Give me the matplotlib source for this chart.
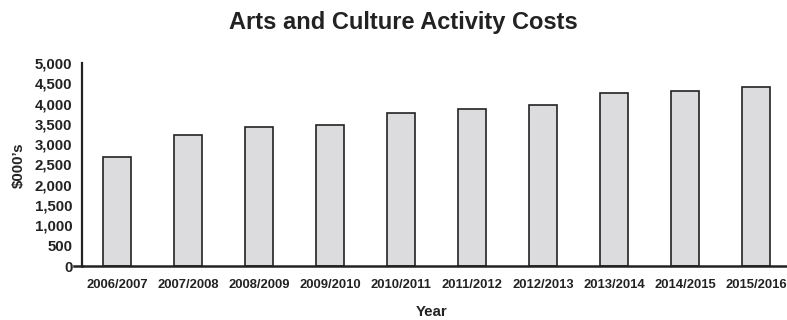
import matplotlib
matplotlib.use("Agg")
import matplotlib.pyplot as plt
import numpy as np

years = ["2006/2007", "2007/2008", "2008/2009", "2009/2010", "2010/2011",
         "2011/2012", "2012/2013", "2013/2014", "2014/2015", "2015/2016"]
costs = [2690, 3230, 3420, 3465, 3770, 3860, 3970, 4270, 4310, 4415]
yticks = [0, 500, 1000, 1500, 2000, 2500, 3000, 3500, 4000, 4500, 5000]

plt.rcParams['font.family'] = ['Liberation Sans', 'DejaVu Sans']

fig = plt.figure(figsize=(7.87, 3.2), dpi=100)
ax = fig.add_axes([82/787, 1-266/320, 704/787, (266-63)/320])

x = np.arange(len(years))
ax.bar(x, costs, width=0.4, color="#dcdcde", edgecolor="#222222", linewidth=1.2, zorder=2)

ax.set_xlim(-0.493, 9.42)
ax.set_ylim(0, 5000)
ax.set_yticks(yticks)
ax.set_yticklabels([f"{v:,}" for v in yticks], fontsize=10.8, fontweight="bold", color="#222222")
ax.set_xticks(x)
ax.set_xticklabels(years, fontsize=9.4, fontweight="bold", color="#222222")
ax.tick_params(axis="both", length=0)
ax.tick_params(axis="y", pad=7)
ax.tick_params(axis="x", pad=9)

for s in ["top", "right"]:
    ax.spines[s].set_visible(False)
ax.spines["left"].set_linewidth(1.6)
ax.spines["bottom"].set_linewidth(1.8)
ax.spines["left"].set_color("#222222")
ax.spines["bottom"].set_color("#222222")
ax.axhline(0, xmin=-0.012, xmax=0.0, color="#222222", linewidth=1.8, clip_on=False)

fig.text(403/787, 1-23/320, "Arts and Culture Activity Costs", ha="center", va="center",
         fontsize=17, fontweight="bold", color="#222222")
fig.text(432/787, 1-312/320, "Year", ha="center", va="center",
         fontsize=10.8, fontweight="bold", color="#222222")
fig.text(19/787, 1-165/320, "\\$000’s", ha="center", va="center", rotation=90,
         fontsize=10.8, fontweight="bold", color="#222222")

fig.savefig("out.png", dpi=100)
